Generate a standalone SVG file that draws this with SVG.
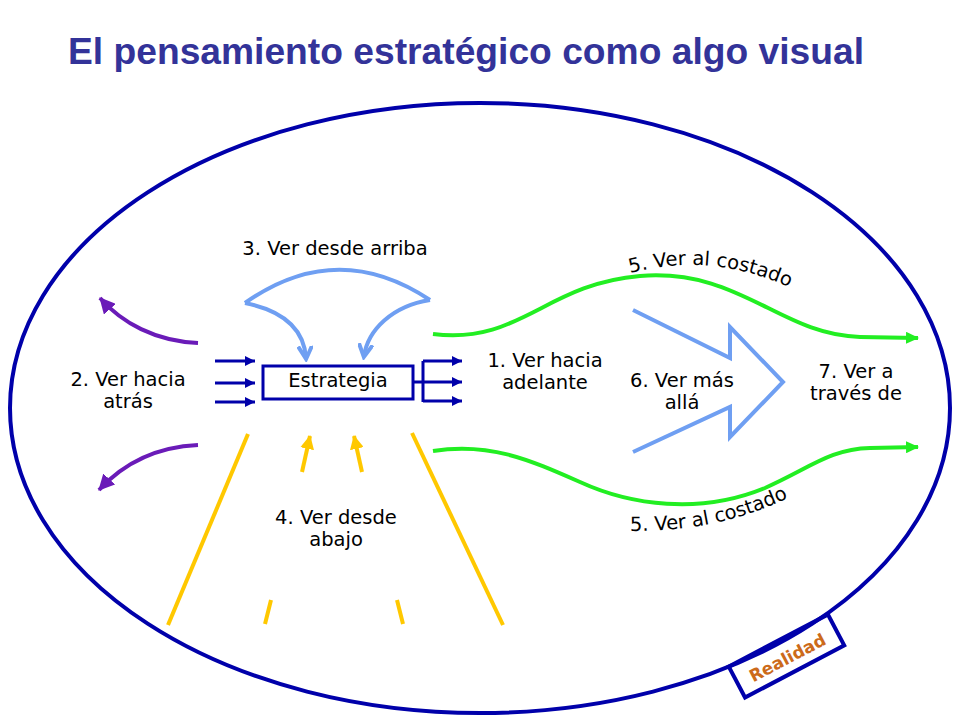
<svg xmlns="http://www.w3.org/2000/svg" width="960" height="720" viewBox="0 0 960 720">
<style>
.lbl{font-family:"DejaVu Sans","Open Sans",sans-serif;font-size:19.5px;fill:#000;text-anchor:middle}
.title{font-family:"Liberation Sans",Arial,sans-serif;font-size:36px;font-weight:bold;fill:#333399}
.db{stroke:#0000aa;stroke-width:3;fill:none}
.lb{stroke:#6f9ff2;stroke-width:4;fill:none}
.pu{stroke:#6a1bb8;stroke-width:4;fill:none}
.gr{stroke:#22ee22;stroke-width:4;fill:none}
.ye{stroke:#ffc800;stroke-width:4;fill:none}
</style>
<defs>
<marker id="mDb" markerUnits="userSpaceOnUse" markerWidth="12" markerHeight="10" refX="10" refY="5" orient="auto"><path d="M0,0 L10,5 L0,10 z" fill="#0000aa"/></marker>
<marker id="mLb" markerUnits="userSpaceOnUse" markerWidth="16" markerHeight="16" refX="12" refY="8" orient="auto"><path d="M0,1 L13,8 L0,15" fill="none" stroke="#6f9ff2" stroke-width="4"/></marker>
<marker id="mPu" markerUnits="userSpaceOnUse" markerWidth="18" markerHeight="16" refX="15" refY="8" orient="auto"><path d="M0,0 L16,8 L0,16 z" fill="#6a1bb8"/></marker>
<marker id="mGr" markerUnits="userSpaceOnUse" markerWidth="14" markerHeight="12" refX="12" refY="6" orient="auto"><path d="M0,0 L13,6 L0,12 z" fill="#22ee22"/></marker>
<marker id="mYe" markerUnits="userSpaceOnUse" markerWidth="16" markerHeight="14" refX="13" refY="7" orient="auto"><path d="M0,0 L14,7 L0,14 z" fill="#ffc800"/></marker>
<path id="tp1" d="M630,273 C690,258 745,262 815,300"/>
<path id="tp2" d="M630,531 C690,531 745,522 805,489"/>
</defs>
<rect width="960" height="720" fill="#fff"/>
<text class="title" x="68" y="64" textLength="796" lengthAdjust="spacingAndGlyphs">El pensamiento estratégico como algo visual</text>

<g id="realidad-ellipse">
<ellipse cx="480" cy="408" rx="470" ry="305" fill="none" stroke="#0000aa" stroke-width="4"/>
</g>

<g id="realidad">
<g transform="translate(786.5,656) rotate(-27.7)">
<rect x="-56" y="-17.5" width="112" height="35" fill="none" stroke="#0000aa" stroke-width="4"/>
<text x="0" y="8" font-family="DejaVu Sans, sans-serif" font-size="17" font-weight="bold" fill="#cc6a1a" text-anchor="middle">Realidad</text>
</g>
</g>

<g id="estrategia">
<rect x="263" y="366" width="150" height="33" fill="none" stroke="#0000aa" stroke-width="3"/>
<text class="lbl" x="338" y="387">Estrategia</text>
</g>

<g id="label-arriba"><text class="lbl" x="335" y="255">3. Ver desde arriba</text></g>
<g id="label-atras"><text class="lbl" x="128" y="386">2. Ver hacia</text><text class="lbl" x="128" y="408">atrás</text></g>
<g id="label-adelante"><text class="lbl" x="545" y="367">1. Ver hacia</text><text class="lbl" x="545" y="389">adelante</text></g>
<g id="label-mas-alla"><text class="lbl" x="682" y="387">6. Ver más</text><text class="lbl" x="682" y="409">allá</text></g>
<g id="label-traves"><text class="lbl" x="856" y="378">7. Ver a</text><text class="lbl" x="856" y="400">través de</text></g>
<g id="label-abajo"><text class="lbl" x="336" y="524">4. Ver desde</text><text class="lbl" x="336" y="546">abajo</text></g>
<g id="label-costado-1"><text class="lbl" style="text-anchor:start"><textPath href="#tp1">5. Ver al costado</textPath></text></g>
<g id="label-costado-2"><text class="lbl" style="text-anchor:start"><textPath href="#tp2">5. Ver al costado</textPath></text></g>

<g id="connectors">
<path class="db" d="M215,361 H255" marker-end="url(#mDb)"/>
<path class="db" d="M215,383 H255" marker-end="url(#mDb)"/>
<path class="db" d="M215,402 H255" marker-end="url(#mDb)"/>
<path class="db" d="M413,382 H423 M423,361 V402"/>
<path class="db" d="M423,361 H462" marker-end="url(#mDb)"/>
<path class="db" d="M423,382 H462" marker-end="url(#mDb)"/>
<path class="db" d="M423,401 H462" marker-end="url(#mDb)"/>
<path class="lb" d="M245,303 Q337,238 430,300"/>
<path class="lb" d="M245,303 C285,311 304,330 306,358" marker-end="url(#mLb)"/>
<path class="lb" d="M430,300 C392,306 368,330 364,356" marker-end="url(#mLb)"/>
<path class="pu" d="M198,343 C155,341 122,323 100,298" marker-end="url(#mPu)"/>
<path class="pu" d="M198,445 C155,447 122,465 99,490" marker-end="url(#mPu)"/>
<path class="gr" d="M433,334 C520,345 545,284 640,276 C740,268 780,335 860,337 L918,338" marker-end="url(#mGr)"/>
<path class="gr" d="M433,451 C490,442 530,460 580,482 C630,505 700,515 765,488 C810,468 830,449 870,448 L918,447" marker-end="url(#mGr)"/>
<polyline points="633,310 730,358 730,327 783,382 730,437 730,407 633,452" fill="none" stroke="#6f9ff2" stroke-width="4" stroke-linejoin="miter"/>
<path class="ye" d="M248,434 L168,625"/>
<path class="ye" d="M412,433 L503,625"/>
<path class="ye" d="M302,472 L310,436" marker-end="url(#mYe)"/>
<path class="ye" d="M362,472 L354,436" marker-end="url(#mYe)"/>
<path class="ye" d="M271,600 L265,624"/>
<path class="ye" d="M397,600 L403,624"/>
</g>
</svg>
